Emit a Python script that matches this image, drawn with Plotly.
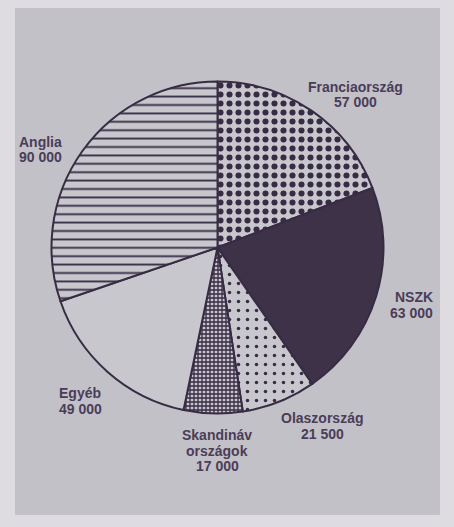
import plotly.graph_objects as go

countries = ["Franciaország", "NSZK", "Olaszország", "Skandináv<br>országok", "Egyéb", "Anglia"]
values = [57000, 63000, 21500, 17000, 49000, 90000]
value_labels = ["57 000", "63 000", "21 500", "17 000", "49 000", "90 000"]

INK = "#372c44"
SLICE_BG = "#c9c7ce"
PAGE_BG = "#c3c1c8"
TEXT = "#4a3d58"

shapes_ = [".", "", ".", "+", "", "-"]
fills = [SLICE_BG, "#3d3247", SLICE_BG, SLICE_BG, SLICE_BG, SLICE_BG]
sizes = [9, 8, 9, 4, 8, 8.4]
solid = [0.36, 0.3, 0.12, 0.55, 0.3, 0.22]

W, H = 454, 527
cx, cy, r = 217.5, 247.5, 166

fig = go.Figure(go.Pie(
    values=values,
    labels=countries,
    sort=False,
    direction="clockwise",
    rotation=0,
    textinfo="none",
    hoverinfo="label+value",
    showlegend=False,
    domain=dict(x=[(cx - r) / W, (cx + r) / W], y=[(H - cy - r) / H, (H - cy + r) / H]),
    marker=dict(
        colors=fills,
        line=dict(color=INK, width=2),
        pattern=dict(shape=shapes_, fgcolor=INK, bgcolor=fills, size=sizes, solidity=solid,
                     fillmode="replace", fgopacity=1),
    ),
))

# label placement (paper px): x, y of first line centre, anchor
pos = [(355, 87, "center"), (435, 297, "right"), (322, 418, "center"),
       (217, 435, "center"), (80, 393, "center"), (17, 142, "left")]
LINE = 15.5
ann = []
for name, val, (x, y, a) in zip(countries, value_labels, pos):
    lines = name.split("<br>") + [val]
    for i, t in enumerate(lines):
        ann.append(dict(x=x / W, y=1 - (y + i * LINE) / H, xref="paper", yref="paper", xanchor=a,
                        yanchor="middle", showarrow=False, text=t,
                        font=dict(family="Liberation Sans, Arial", size=14, color=TEXT, weight="bold")))

fig.update_layout(
    width=W, height=H, margin=dict(l=0, r=0, t=0, b=0),
    paper_bgcolor="#dedce0", plot_bgcolor=PAGE_BG,
    shapes=[dict(type="rect", xref="paper", yref="paper", x0=15 / W, x1=440 / W, y0=1 - 515 / H, y1=1 - 8 / H,
                 fillcolor=PAGE_BG, line=dict(width=0), layer="below")],
    annotations=ann,
)
fig.write_html("out.html")
